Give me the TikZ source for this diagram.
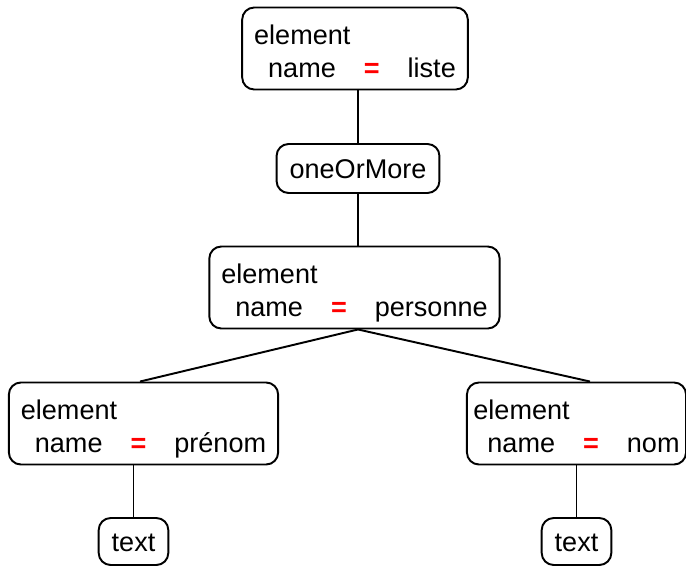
\documentclass[tikz,border=0pt]{standalone}
\usepackage{fontspec}
\setmainfont{Liberation Sans}
\usepackage{xcolor}
\usetikzlibrary{positioning}

\newcommand{\attrline}[1]{\hspace*{0.28cm}name\hspace*{0.56cm}\textcolor{red}{\textbf{=}}\hspace*{0.56cm}\smash{#1}}

\begin{document}
\begin{tikzpicture}[font=\fontsize{15.4}{18.8}\selectfont,
  elem/.style={draw,line width=1.1pt,rounded corners=0.24cm,align=left,inner xsep=0.24cm,inner ysep=0pt,minimum height=1.64cm},
  leaf/.style={draw,line width=1.1pt,rounded corners=0.24cm,inner xsep=0.26cm,inner ysep=0pt,text height=0.74em+4pt,text depth=0pt},
  link/.style={line width=1.1pt}]
  \useasboundingbox (0,0) rectangle (13.72,-11.32);
  % tree of elements
  \node[elem] (liste) at (7.1,-0.97) {\rule{0pt}{0.5cm}element\\\attrline{liste}};
  \node[leaf,minimum height=0.98cm] (more) at (7.16,-3.37) {oneOrMore};
  \node[elem] (personne) at (7.09,-5.75) {\rule{0pt}{0.5cm}element\\\attrline{personne}};
  \node[elem] (prenom) at (2.87,-8.47) {\rule{0pt}{0.5cm}element\\\attrline{prénom}};
  \node[elem,inner xsep=0.13cm] (nom) at (11.53,-8.47) {\rule{0pt}{0.5cm}element\\\attrline{nom}};
  \node[leaf,minimum height=0.94cm] (text1) at (2.67,-10.83) {text};
  \node[leaf,minimum height=0.94cm] (text2) at (11.53,-10.83) {text};
  % connectors
  \coordinate (fork) at (more |- personne.south);
  \draw[link] (liste.south -| more) -- (more.north);
  \draw[link] (more.south) -- (more |- personne.north);
  \draw[link] (fork) -- ([xshift=-0.07cm]prenom.north);
  \draw[link] (fork) -- ([xshift=0.27cm]nom.north);
  \draw[link] (prenom.south -| text1) -- (text1.north);
  \draw[link] (nom.south) -- (text2.north);
\end{tikzpicture}
\end{document}
